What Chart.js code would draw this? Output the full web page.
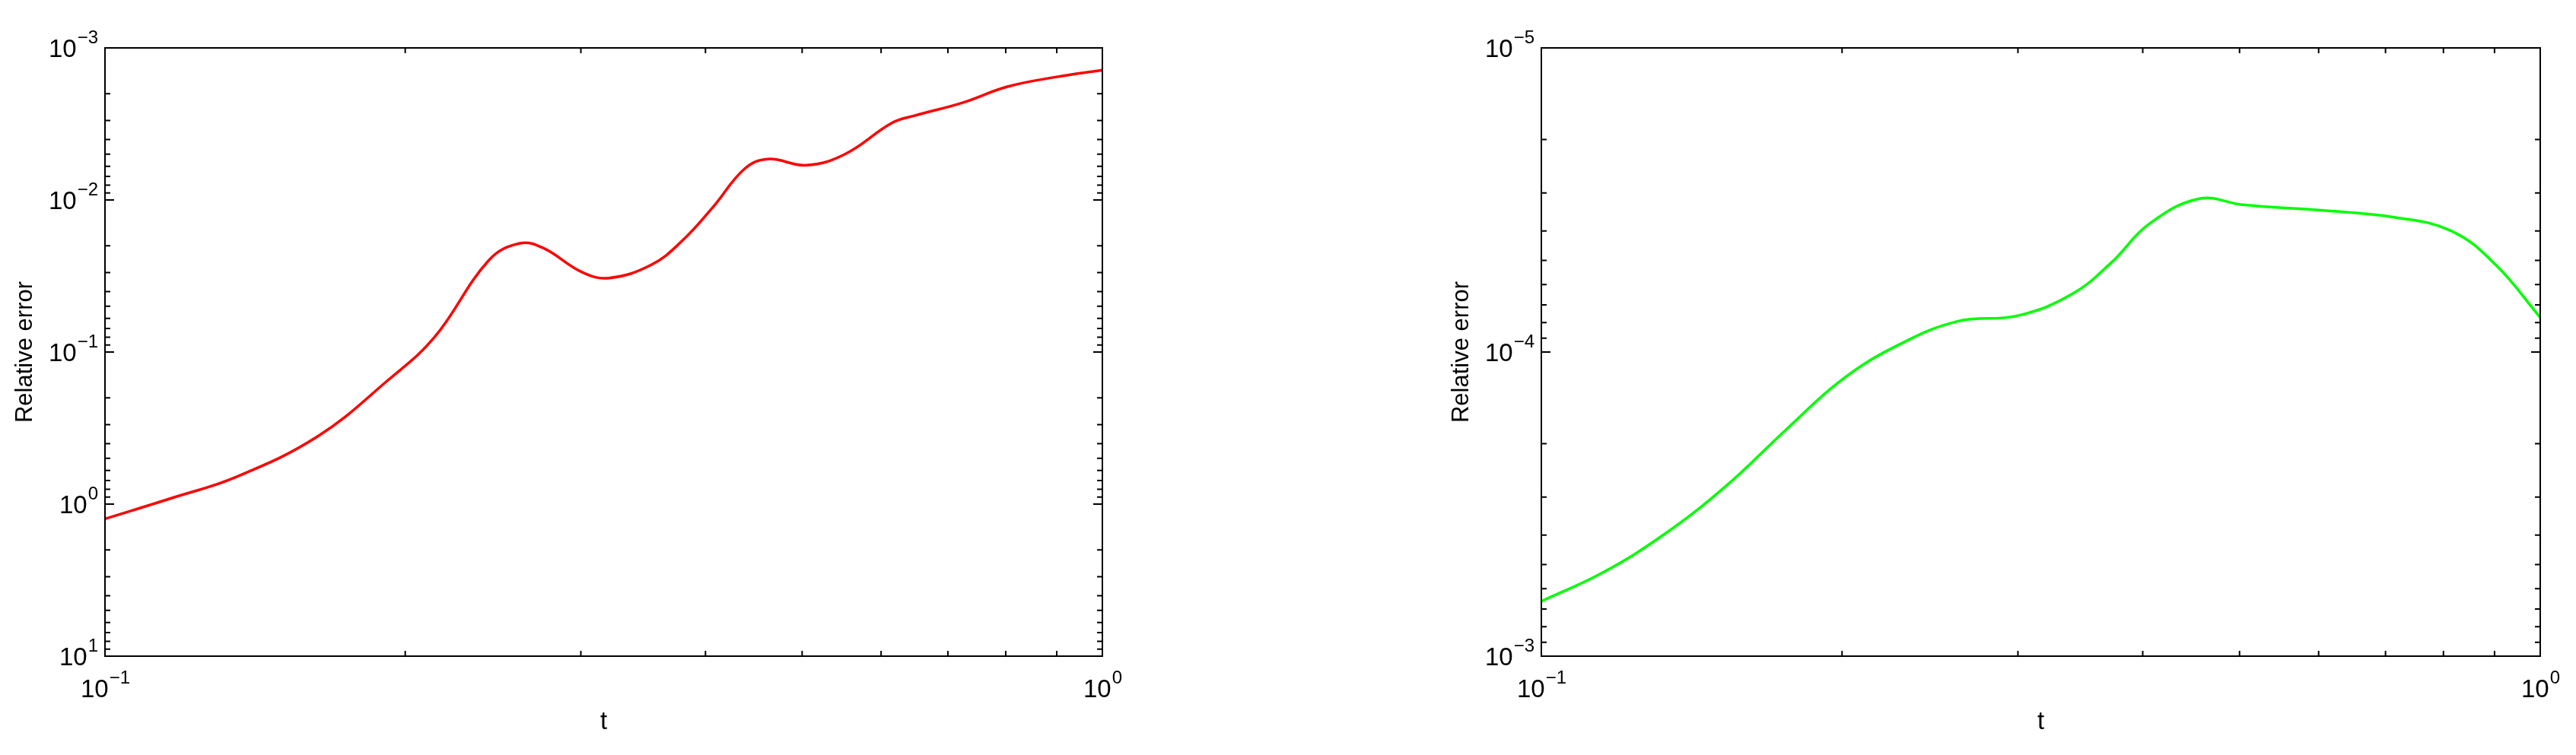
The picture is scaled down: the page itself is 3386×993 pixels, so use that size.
<!DOCTYPE html>
<html><head><meta charset="utf-8">
<script src="https://cdn.jsdelivr.net/npm/chart.js@4"></script>
<style>
html,body{margin:0;padding:0;background:#fff;width:3386px;height:993px;overflow:hidden}
.c{position:absolute;top:0;width:1693px;height:993px}
</style></head><body>
<div class="c" style="left:0"><canvas id="a"></canvas></div>
<div class="c" style="left:1693px"><canvas id="b"></canvas></div>
<script>
const tLeft = [0.1,0.1164,0.1355,0.1637,0.192,0.214,0.2426,0.2606,0.275,0.301,0.320,0.353,0.379,0.407,0.438,0.462,0.505,0.552,0.615,0.648,0.723,0.803,0.895,1.0];
const errLeft = [1.25,0.917,0.661,0.356,0.154,0.0798,0.0249,0.01928,0.0207,0.0299,0.0326,0.0267,0.01858,0.01114,0.00622,0.00538,0.00591,0.0050,0.00312,0.00279,0.0023,0.0018,0.00156,0.0014];
const tRight = [0.1,0.1152,0.1328,0.153,0.1764,0.1995,0.226,0.2605,0.300,0.340,0.372,0.406,0.456,0.503,0.603,0.716,0.815,0.902,1.0];
const errRight = [6.6e-4,5.31e-4,3.97e-4,2.76e-4,1.78e-4,1.24e-4,9.6e-5,7.94e-5,7.59e-5,6.44e-5,5.08e-5,3.79e-5,3.13e-5,3.28e-5,3.42e-5,3.61e-5,4.0e-5,5.16e-5,7.7e-5];
const xTickExp = [-1,0];
const yTickExpLeft = [-3,-2,-1,0,1];
const yTickExpRight = [-5,-4,-3];
const xTitle = 't';
const yTitle = 'Relative error';

const FONT = '"Liberation Sans", Arial, sans-serif';
function pow(ctx,x,y,e,align){
  const base='10', sup=String(e).replace('-','\u2212');
  ctx.font='33px '+FONT; const wb=ctx.measureText(base).width;
  ctx.font='24px '+FONT; const ws=ctx.measureText(sup).width;
  let x0 = align==='right' ? x-wb-ws : x-(wb+ws)/2;
  ctx.textAlign='left'; ctx.textBaseline='alphabetic';
  ctx.font='33px '+FONT; ctx.fillText(base,x0,y);
  ctx.font='24px '+FONT; ctx.fillText(sup,x0+wb+1,y-18);
}
const axesPlugin = {
  id:'mat',
  afterDraw(chart,args,opts){
    const ctx=chart.ctx, a=chart.chartArea, xs=chart.scales.x, ys=chart.scales.y;
    ctx.save(); ctx.strokeStyle='#000'; ctx.fillStyle='#000'; ctx.lineWidth=2;
    ctx.strokeRect(a.left,a.top,a.right-a.left,a.bottom-a.top);
    const decX=[xs.min,xs.max].map(v=>Math.round(Math.log10(v)));
    for(let k=decX[0];k<=decX[1];k++){for(let m=1;m<=9;m++){const v=m*Math.pow(10,k); if(v<xs.min*0.999||v>xs.max*1.001)continue;
      const px=xs.getPixelForValue(v), L=m===1?12:7;
      ctx.beginPath();ctx.moveTo(px,a.bottom);ctx.lineTo(px,a.bottom-L);ctx.moveTo(px,a.top);ctx.lineTo(px,a.top+L);ctx.stroke();}}
    const lo=Math.round(Math.log10(ys.min)), hi=Math.round(Math.log10(ys.max));
    for(let k=lo;k<=hi;k++){for(let m=1;m<=9;m++){const v=m*Math.pow(10,k); if(v<ys.min*0.999||v>ys.max*1.001)continue;
      const py=ys.getPixelForValue(v), L=m===1?12:7;
      ctx.beginPath();ctx.moveTo(a.left,py);ctx.lineTo(a.left+L,py);ctx.moveTo(a.right,py);ctx.lineTo(a.right-L,py);ctx.stroke();}}
    opts.xExp.forEach(e=>pow(ctx,xs.getPixelForValue(Math.pow(10,e)),917,e,'center'));
    opts.yExp.forEach(e=>pow(ctx,a.left-10,ys.getPixelForValue(Math.pow(10,e))+12,e,'right'));
    ctx.font='33px '+FONT; ctx.textAlign='center'; ctx.textBaseline='middle';
    ctx.fillText(xTitle,(a.left+a.right)/2,950);
    ctx.save(); ctx.translate(opts.yTitleX,(a.top+a.bottom)/2); ctx.rotate(-Math.PI/2);
    ctx.font='31px '+FONT; ctx.fillText(yTitle,0,0); ctx.restore();
    ctx.restore();
  }
};
function make(id,t,v,color,ymin,ymax,pad,yExp,yTitleX){
  new Chart(document.getElementById(id),{
    type:'line',
    data:{datasets:[{data:t.map((x,i)=>({x,y:v[i]})),borderColor:color,borderWidth:3.5,pointRadius:0,tension:0.4,fill:false}]},
    options:{responsive:true,maintainAspectRatio:false,animation:false,
      layout:{padding:pad},
      plugins:{legend:{display:false},tooltip:{enabled:false},mat:{xExp:xTickExp,yExp,yTitleX}},
      scales:{
        x:{type:'logarithmic',min:0.1,max:1,display:false},
        y:{type:'logarithmic',min:ymin,max:ymax,reverse:true,display:false}
      }},
    plugins:[axesPlugin]
  });
}
make('a',tLeft,errLeft,'#ff0000',1e-3,10,{left:138,right:244,top:63,bottom:130},yTickExpLeft,33);
make('b',tRight,errRight,'#00ff00',1e-5,1e-3,{left:333,right:47,top:63,bottom:130},yTickExpRight,228);
</script></body></html>
